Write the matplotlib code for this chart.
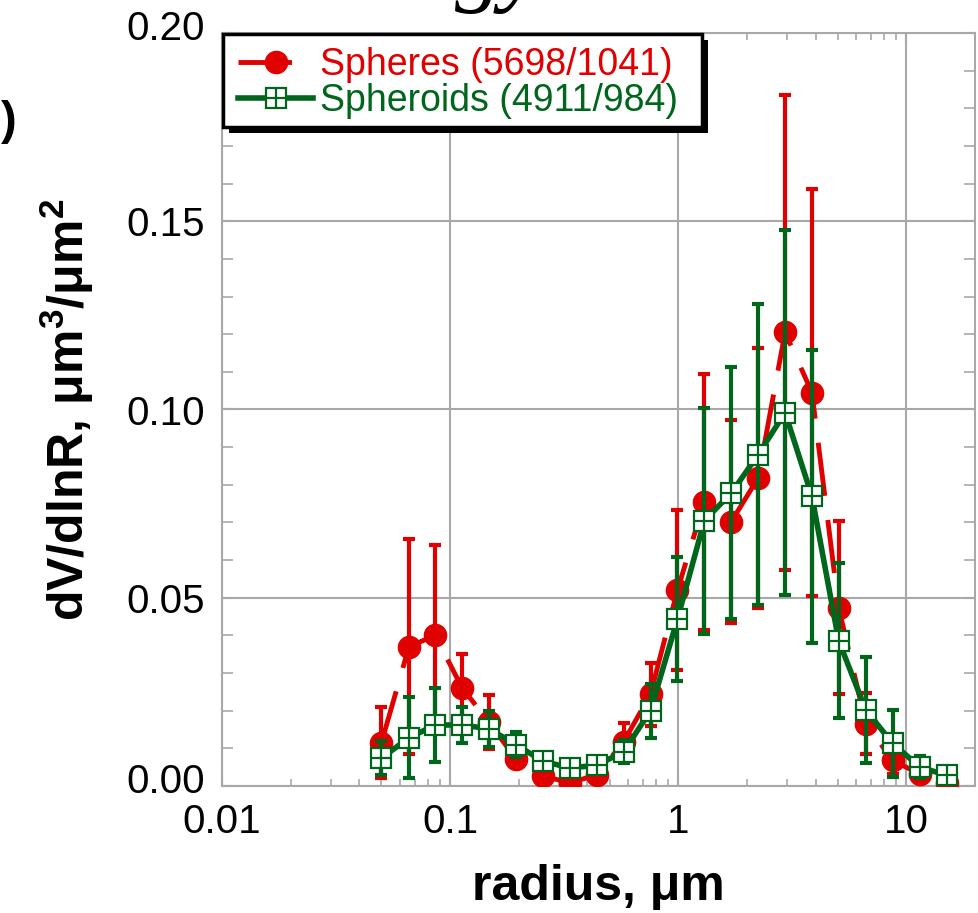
import numpy as np
import matplotlib
matplotlib.use("Agg")
import matplotlib.pyplot as plt
import matplotlib.transforms as mtransforms
from matplotlib.lines import Line2D
from matplotlib.patches import Rectangle
from matplotlib.ticker import MultipleLocator, FixedLocator, LogLocator, NullFormatter

plt.rcParams['font.family'] = ['Liberation Sans', 'DejaVu Sans']
plt.rcParams['mathtext.fontset'] = 'custom'
plt.rcParams['mathtext.rm'] = 'Liberation Sans'
plt.rcParams['mathtext.bf'] = 'Liberation Sans:bold'

# 22 radius bins (um)
radius = [0.050, 0.066, 0.086, 0.113, 0.148, 0.194, 0.255, 0.335, 0.439, 0.576,
          0.756, 0.992, 1.302, 1.708, 2.241, 2.940, 3.857, 5.051, 6.641, 8.713,
          11.432, 15.000]

spheres = [0.0115, 0.037, 0.040, 0.026, 0.017, 0.0072, 0.0026, 0.0009, 0.0029, 0.0117,
           0.0244, 0.052, 0.0755, 0.0702, 0.0818, 0.1205, 0.1045, 0.0474, 0.0166, 0.0068,
           0.0032, 0.0008]
spheres_err = [0.0095, 0.0285, 0.024, 0.009, 0.0072, 0.002, 0.001, 0.0005, 0.001, 0.005,
               0.0084, 0.0213, 0.034, 0.027, 0.0346, 0.063, 0.054, 0.0229, 0.008, 0.0036,
               0.0015, 0.0005]

spheroids = [0.0074, 0.0128, 0.0162, 0.0162, 0.0152, 0.011, 0.0066, 0.0048, 0.0055, 0.0091,
             0.020, 0.0443, 0.0705, 0.0778, 0.088, 0.0992, 0.0769, 0.0386, 0.0202, 0.0113,
             0.0051, 0.0028]
spheroids_err = [0.0045, 0.0108, 0.0098, 0.0047, 0.0048, 0.0034, 0.001, 0.001, 0.001, 0.003,
                 0.0072, 0.0165, 0.030, 0.0335, 0.040, 0.0484, 0.039, 0.0206, 0.014, 0.0089,
                 0.003, 0.001]

labels = ["Spheres (5698/1041)", "Spheroids (4911/984)"]
RED = "#e00000"
GREEN = "#00661c"
GRAY = "#a8a8a8"

W, H = 979, 913
fig = plt.figure(figsize=(W / 100, H / 100), dpi=100)
ax = fig.add_axes([222 / W, 1 - 786 / H, (975 - 222) / W, (786 - 33) / H])

# spheres
ax.errorbar(radius, spheres, yerr=spheres_err, fmt='none', ecolor=RED,
            elinewidth=3, capsize=4.5, capthick=3, zorder=2)
ax.plot(radius, spheres, color=RED, lw=3.5, linestyle=(0, (11, 5)), zorder=3)
ax.plot(radius, spheres, 'o', color=RED, ms=16, zorder=4)

# spheroids
ax.errorbar(radius, spheroids, yerr=spheroids_err, fmt='none', ecolor=GREEN,
            elinewidth=3, capsize=4.5, capthick=3, zorder=5)
ax.plot(radius, spheroids, color=GREEN, lw=4, zorder=6)
ax.plot(radius, spheroids, 's', mfc='white', mec=GREEN, mew=1.6, ms=15, zorder=7)
ax.plot(radius, spheroids, '+', color=GREEN, mew=1.6, ms=15, zorder=8)

ax.set_xscale('log')
ax.set_xlim(0.01, 20)
ax.set_ylim(0, 0.2)
ax.xaxis.set_major_locator(FixedLocator([0.01, 0.1, 1, 10]))
ax.set_xticklabels(["0.01", "0.1", "1", "10"])
ax.xaxis.set_minor_locator(LogLocator(base=10, subs=np.arange(2, 10)))
ax.xaxis.set_minor_formatter(NullFormatter())
ax.yaxis.set_major_locator(FixedLocator([0.0, 0.05, 0.10, 0.15, 0.20]))
ax.yaxis.set_minor_locator(MultipleLocator(0.01))
ax.yaxis.set_major_formatter(matplotlib.ticker.FormatStrFormatter('%.2f'))

ax.grid(True, which='major', color=GRAY, lw=1.5, zorder=0)
ax.set_axisbelow(True)
for s in ax.spines.values():
    s.set_color(GRAY)
    s.set_linewidth(1.5)
ax.tick_params(which='both', direction='in', top=True, right=True, color=GRAY,
               labelsize=29, pad=12)
ax.tick_params(which='major', length=8, width=1.5)
ax.tick_params(axis='x', which='minor', length=5, width=1.2)
ax.tick_params(axis='y', which='minor', length=8, width=1.2)

# end labels on the y axis sit a little higher in the original
fig.canvas.draw()
shift = mtransforms.ScaledTranslation(0, 8 / 100, fig.dpi_scale_trans)
for t in ax.yaxis.get_major_ticks():
    if abs(t.get_loc()) < 1e-9 or abs(t.get_loc() - 0.2) < 1e-9:
        t.label1.set_transform(t.label1.get_transform() + shift)

ax.set_xlabel("radius, μm", fontsize=36, fontweight='bold', labelpad=17)
ax.set_ylabel(r"dV/dlnR, μm$^{\mathbf{3}}$/μm$^{\mathbf{2}}$", fontsize=36,
              fontweight='bold', labelpad=22)

# legend box with solid shadow
fig.patches.append(Rectangle((229 / W, 1 - 133 / H), (702 - 223) / W, (127 - 34) / H,
                             transform=fig.transFigure, facecolor='black',
                             edgecolor='none', zorder=20))
fig.patches.append(Rectangle((223 / W, 1 - 127 / H), (702 - 223) / W, (127 - 34) / H,
                             transform=fig.transFigure, facecolor='white',
                             edgecolor='black', lw=2.5, zorder=21))

h_red = Line2D([], [], color=RED, lw=3.5, linestyle=(0, (11, 5)), marker='o', ms=16)
h_green_sq = Line2D([], [], color=GREEN, lw=4, marker='s', mfc='white', mec=GREEN,
                    mew=1.6, ms=15)
h_green_plus = Line2D([], [], color=GREEN, lw=0, marker='+', mew=1.6, ms=15)
leg = fig.legend([h_red, (h_green_sq, h_green_plus)], labels,
                 loc='upper left', bbox_to_anchor=(223 / W, 1 - 32 / H),
                 frameon=False, fontsize=27, handlelength=2.0, handletextpad=0.2,
                 borderpad=0.4, labelspacing=0.0, borderaxespad=0, numpoints=1)
leg.set_zorder(22)
leg.get_texts()[0].set_color(RED)
leg.get_texts()[1].set_color(GREEN)

# fragments of neighbouring text cut off by the crop
fig.text(500 / W, 1 + 6 / H, "gy", ha='center', va='baseline', fontsize=68,
         family='Liberation Serif', style='italic')
fig.text(17 / W, 1 - 122 / H, ")", ha='right', va='center', fontsize=34,
         fontweight='bold')

fig.savefig("out.png", dpi=100, facecolor='white')
